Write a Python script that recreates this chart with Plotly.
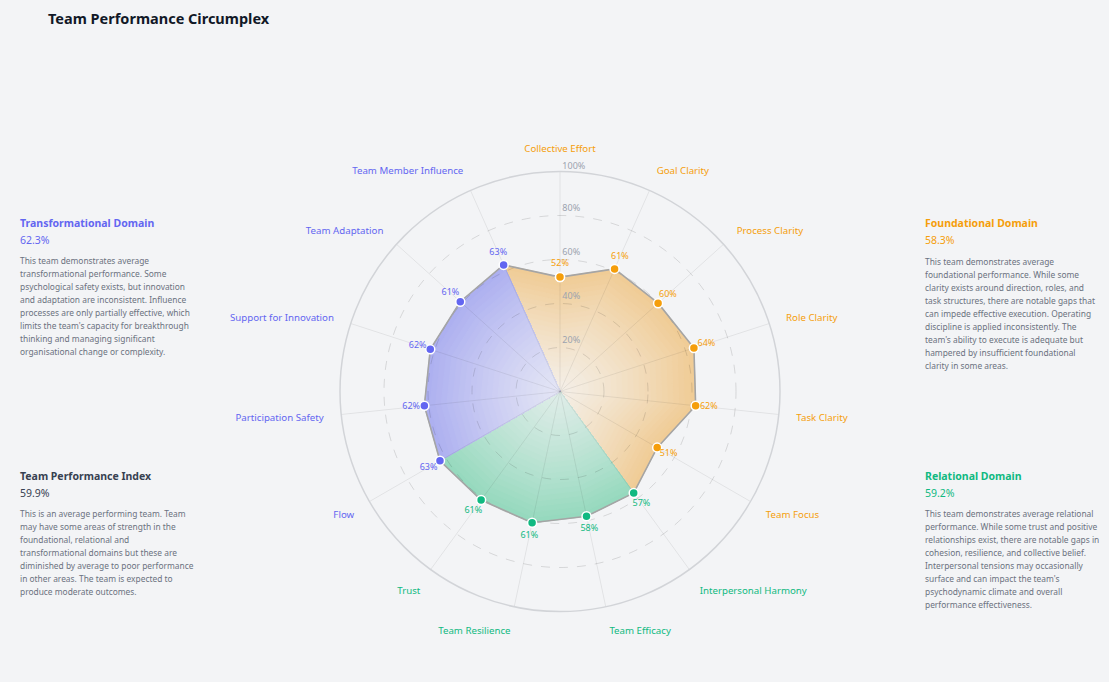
import plotly.graph_objects as go

# ---------------- data ----------------
categories = ["Collective Effort", "Goal Clarity", "Process Clarity", "Role Clarity",
              "Task Clarity", "Team Focus", "Interpersonal Harmony", "Team Efficacy",
              "Team Resilience", "Trust", "Flow", "Participation Safety",
              "Support for Innovation", "Team Adaptation", "Team Member Influence"]
scores = [52, 61, 60, 64, 62, 51, 57, 58, 61, 61, 63, 62, 62, 61, 63]
category_domain = ["Foundational"] * 6 + ["Relational"] * 4 + ["Transformational"] * 5

domain_names = ["Foundational", "Relational", "Transformational"]
domain_titles = ["Foundational Domain", "Relational Domain", "Transformational Domain"]
domain_scores = ["58.3%", "59.2%", "62.3%"]
radial_ticks = [20, 40, 60, 80, 100]

index_title = "Team Performance Index"
index_score = "59.9%"

foundational_text = [
    "This team demonstrates average",
    "foundational performance. While some",
    "clarity exists around direction, roles, and",
    "task structures, there are notable gaps that",
    "can impede effective execution. Operating",
    "discipline is applied inconsistently. The",
    "team's ability to execute is adequate but",
    "hampered by insufficient foundational",
    "clarity in some areas.",
]
relational_text = [
    "This team demonstrates average relational",
    "performance. While some trust and positive",
    "relationships exist, there are notable gaps in",
    "cohesion, resilience, and collective belief.",
    "Interpersonal tensions may occasionally",
    "surface and can impact the team's",
    "psychodynamic climate and overall",
    "performance effectiveness.",
]
transformational_text = [
    "This team demonstrates average",
    "transformational performance. Some",
    "psychological safety exists, but innovation",
    "and adaptation are inconsistent. Influence",
    "processes are only partially effective, which",
    "limits the team's capacity for breakthrough",
    "thinking and managing significant",
    "organisational change or complexity.",
]
index_text = [
    "This is an average performing team. Team",
    "may have some areas of strength in the",
    "foundational, relational and",
    "transformational domains but these are",
    "diminished by average to poor performance",
    "in other areas. The team is expected to",
    "produce moderate outcomes.",
]

# ---------------- styles ----------------
FONT = "Noto Sans"
BG = "#f3f4f6"
dom_color = {"Foundational": "#f59e0b", "Relational": "#10b981", "Transformational": "#6366f1"}
grad_edge = {"Foundational": (240, 204, 150), "Relational": (150, 217, 190), "Transformational": (173, 176, 240)}
grad_center = {"Foundational": (244, 239, 232), "Relational": (224, 237, 233), "Transformational": (229, 230, 245)}
N_STEPS = 24
VALUE_LABEL_OFFSET = 6.0
TICK_LABEL_LIFT = 0.8
R_MAX = 100

W, H = 1109, 682


def lerp(c0, c1, t):
    return "rgb(%d,%d,%d)" % tuple(round(a + (b - a) * t) for a, b in zip(c0, c1))


fig = go.Figure()

# ---- gradient filled wedges (bottom polar) ----
n = len(categories)
for di, d in enumerate(domain_names):
    own = [i for i in range(n) if category_domain[i] == d]
    nxt = (own[-1] + 1) % n
    idx = list(own)
    if nxt != 0:
        idx.append(nxt)
    if di == 0:
        idx = [n - 1] + idx
    th = [categories[i] for i in idx]
    vals = [scores[i] for i in idx]
    for k in range(N_STEPS, 0, -1):
        s = k / N_STEPS
        col = lerp(grad_center[d], grad_edge[d], s ** 1.2)
        fig.add_trace(go.Scatterpolar(
            r=[0] + [v * s for v in vals] + [0],
            theta=[th[0]] + th + [th[0]],
            mode="lines", fill="toself", fillcolor=col,
            line=dict(color=col, width=1),
            hoverinfo="skip", showlegend=False, subplot="polar"))

# ---- radial tick labels (top polar) ----
fig.add_trace(go.Scatterpolar(
    r=[min(t + TICK_LABEL_LIFT, R_MAX) for t in radial_ticks],
    theta=[categories[0]] * len(radial_ticks),
    mode="text", text=["\u00a0%d%%" % t for t in radial_ticks],
    textposition="top right", cliponaxis=False,
    textfont=dict(family=FONT, size=9, color="#9ca3af"),
    hoverinfo="skip", showlegend=False, subplot="polar2"))

# ---- outline + markers (top polar) ----
pt_colors = [dom_color[d] for d in category_domain]
fig.add_trace(go.Scatterpolar(
    r=scores + [scores[0]], theta=categories + [categories[0]],
    mode="lines+markers",
    line=dict(color="#a5a5a5", width=1.6),
    marker=dict(size=9, color=pt_colors + [pt_colors[0]], line=dict(color="white", width=1.5)),
    showlegend=False, subplot="polar2"))

fig.add_trace(go.Scatterpolar(
    r=[v + VALUE_LABEL_OFFSET for v in scores], theta=categories,
    mode="text", text=["%d%%" % v for v in scores],
    textfont=dict(family=FONT, size=9, color=pt_colors),
    textposition="middle center", hoverinfo="skip",
    showlegend=False, subplot="polar2"))

ticktext = ['<span style="color:%s">%s</span>' % (dom_color[d], c) for c, d in zip(categories, category_domain)]

dom_x = [340 / W, 780 / W]
dom_y = [(H - 611.5) / H, (H - 171.5) / H]
ang_common = dict(type="category", categoryorder="array", categoryarray=categories,
                  rotation=90, direction="clockwise")

fig.update_layout(
    width=W, height=H,
    paper_bgcolor=BG, plot_bgcolor=BG,
    margin=dict(l=0, r=0, t=0, b=0),
    font=dict(family=FONT),
    polar=dict(
        domain=dict(x=dom_x, y=dom_y), bgcolor="rgba(0,0,0,0)",
        angularaxis=dict(**ang_common, showgrid=False, showline=False,
                         showticklabels=False, ticks=""),
        radialaxis=dict(range=[0, R_MAX], showgrid=False, showline=False,
                        showticklabels=False, ticks=""),
    ),
    polar2=dict(
        domain=dict(x=dom_x, y=dom_y), bgcolor="rgba(0,0,0,0)",
        angularaxis=dict(**ang_common, showgrid=True, gridcolor="rgba(0,0,0,0.07)", gridwidth=1,
                         showline=True, linecolor="#d2d4d8", linewidth=1.5,
                         ticks="outside", ticklen=15, tickcolor="rgba(0,0,0,0)",
                         tickmode="array", tickvals=categories, ticktext=ticktext,
                         tickfont=dict(family=FONT, size=9.7)),
        radialaxis=dict(range=[0, R_MAX], angle=90,
                        tickmode="array", tickvals=radial_ticks,
                        showgrid=True, gridcolor="rgba(0,0,0,0.12)", griddash="dash", gridwidth=1,
                        showline=False, ticks="", showticklabels=False),
    ),
)

# ---------------- text annotations ----------------
def ann(x, y, text, size, color, bold=False):
    fig.add_annotation(
        x=x / W, y=1 - y / H, xref="paper", yref="paper",
        xanchor="left", yanchor="middle", showarrow=False, align="left",
        text=("<b>%s</b>" % text) if bold else text,
        font=dict(family=FONT, size=size, color=color))


ann(46, 18, "Team Performance Circumplex", 14.5, "#111827", bold=True)

blocks = [
    (18, 223, domain_titles[2], domain_scores[2], dom_color["Transformational"], transformational_text, 260),
    (18, 476, index_title, index_score, "#374151", index_text, 513.5),
    (923, 223, domain_titles[0], domain_scores[0], dom_color["Foundational"], foundational_text, 261.5),
    (923, 476, domain_titles[1], domain_scores[1], dom_color["Relational"], relational_text, 513.5),
]
for x, y, title, score, col, lines, y0 in blocks:
    ann(x, y, title, 10.5, col, bold=True)
    ann(x, y + 17, score, 10.5, col)
    for i, line in enumerate(lines):
        ann(x, y0 + i * 13, line, 8.4, "#6b7280")

fig.write_html("out.html")
